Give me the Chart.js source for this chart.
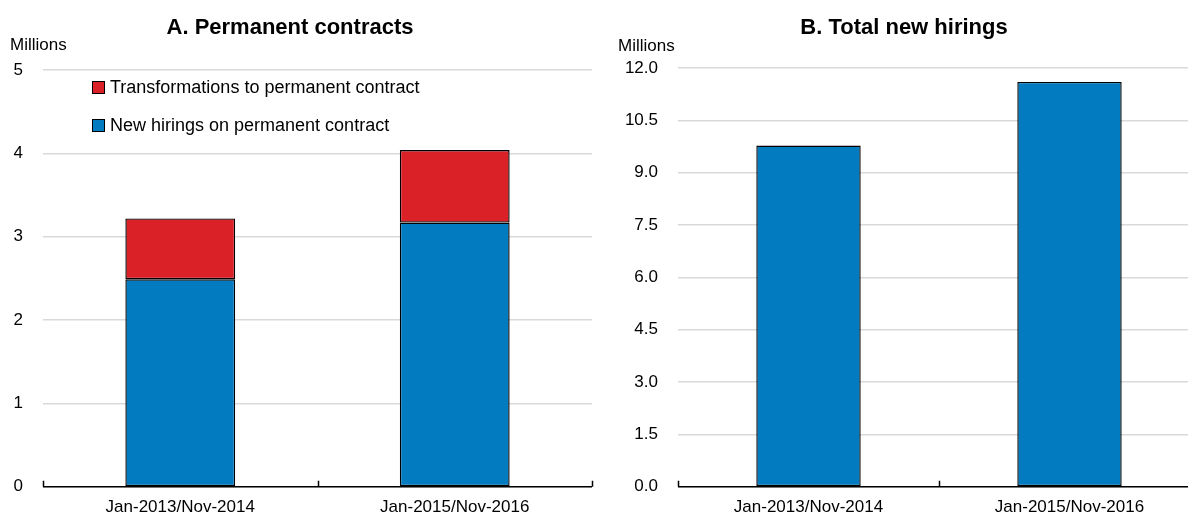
<!DOCTYPE html>
<html><head><meta charset="utf-8">
<script src="https://cdn.jsdelivr.net/npm/chart.js@4.4.0/dist/chart.umd.min.js"></script>
<style>
html,body{margin:0;padding:0;background:#fff;overflow:hidden;width:1188px;height:517px;}
body{font-family:"Liberation Sans Narrow","Arial Narrow","Liberation Sans",Arial,sans-serif;color:#000;}
.panel{position:absolute;top:0;height:517px;}
.title{position:absolute;top:14px;font-weight:bold;font-size:22px;white-space:nowrap;transform:translateX(-50%);}
.unit{position:absolute;font-size:17px;white-space:nowrap;}
.leg{position:absolute;font-size:18px;white-space:nowrap;display:flex;align-items:center;}
.leg span.sw{display:inline-block;width:11px;height:11px;border:1px solid #000;margin-right:5px;}
</style></head>
<body>
<div class="panel" id="pA" style="left:0;width:594px;"><canvas id="cA" width="594" height="517"></canvas></div>
<div class="panel" id="pB" style="left:594px;width:606px;"><canvas id="cB" width="606" height="517"></canvas></div>
<div class="title" style="left:290px;">A. Permanent contracts</div>
<div class="title" style="left:904px;">B. Total new hirings</div>
<div class="unit" style="left:10px;top:35px;">Millions</div>
<div class="unit" style="left:618px;top:36px;">Millions</div>
<div class="leg" style="left:92px;top:77px;"><span class="sw" style="background:#da2128"></span>Transformations to permanent contract</div>
<div class="leg" style="left:92px;top:115px;"><span class="sw" style="background:#037bc1"></span>New hirings on permanent contract</div>
<script>
const categories = ["Jan-2013/Nov-2014", "Jan-2015/Nov-2016"];
const newHiringsPermanent = [2.49, 3.17];
const transformationsPermanent = [0.73, 0.87];
const totalNewHirings = [9.78, 11.6];
const ticksA = [0, 1, 2, 3, 4, 5];
const ticksB = [0, 1.5, 3, 4.5, 6, 7.5, 9, 10.5, 12];

const BLUE = "#037bc1", RED = "#da2128";
const FONT = "'Liberation Sans Narrow','Arial Narrow','Liberation Sans',Arial,sans-serif";
Chart.defaults.font.family = FONT;
Chart.defaults.color = "#000";

const axisTicks = {
  id: "axisTicks",
  afterDraw(chart) {
    const {ctx, chartArea} = chart;
    const n = chart.data.labels.length;
    const w = (chartArea.right - chartArea.left) / n;
    ctx.save();
    ctx.strokeStyle = "#000";
    ctx.lineWidth = 1.5;
    ctx.beginPath();
    ctx.moveTo(chartArea.left, chartArea.bottom);
    ctx.lineTo(chartArea.right, chartArea.bottom);
    for (let i = 0; i <= n; i++) {
      const x = Math.round(chartArea.left + i * w) + 0.5;
      ctx.moveTo(x, chartArea.bottom);
      ctx.lineTo(x, chartArea.bottom - 6);
    }
    ctx.stroke();
    ctx.restore();
  }
};

function makeOpts(tickVals, max, yWidth, xHeight, dec, rightPad) {
  return {
    responsive: false,
    animation: false,
    layout: {padding: {top: 0, right: rightPad, left: 0, bottom: 0}},
    plugins: {legend: {display: false}, tooltip: {enabled: false}, title: {display: false}},
    scales: {
      x: {
        stacked: true,
        offset: true,
        grid: {display: false},
        border: {display: false},
        ticks: {font: {size: 17}, padding: 2, maxRotation: 0},
        afterFit(s) { s.height = xHeight; }
      },
      y: {
        stacked: true,
        min: 0, max: max,
        afterBuildTicks(s) { s.ticks = tickVals.map(v => ({value: v})); },
        grid: {color: "#d9d9d9", lineWidth: 1.5, drawTicks: false},
        border: {display: false},
        ticks: {font: {size: 17}, padding: 20, callback: v => dec ? Number(v).toFixed(1) : String(v)},
        afterFit(s) { s.width = yWidth; }
      }
    }
  };
}

const barStyle = {borderColor: "#000", borderWidth: 1.4, borderSkipped: false, barPercentage: 0.4, categoryPercentage: 1};

const optsA = makeOpts(ticksA, 5, 43, 28, false, 2);
optsA.layout.padding.top = 70;
new Chart(document.getElementById("cA"), {
  type: "bar",
  data: {
    labels: categories,
    datasets: [
      Object.assign({label: "New hirings on permanent contract", data: newHiringsPermanent, backgroundColor: BLUE}, barStyle),
      Object.assign({label: "Transformations to permanent contract", data: transformationsPermanent, backgroundColor: RED}, barStyle)
    ]
  },
  options: optsA,
  plugins: [axisTicks]
});

const optsB = makeOpts(ticksB, 12, 84, 27, true, 0);
optsB.layout.padding.top = 68;
new Chart(document.getElementById("cB"), {
  type: "bar",
  data: {
    labels: categories,
    datasets: [
      Object.assign({label: "Total new hirings", data: totalNewHirings, backgroundColor: BLUE}, barStyle)
    ]
  },
  options: optsB,
  plugins: [axisTicks]
});
</script>
</body></html>
